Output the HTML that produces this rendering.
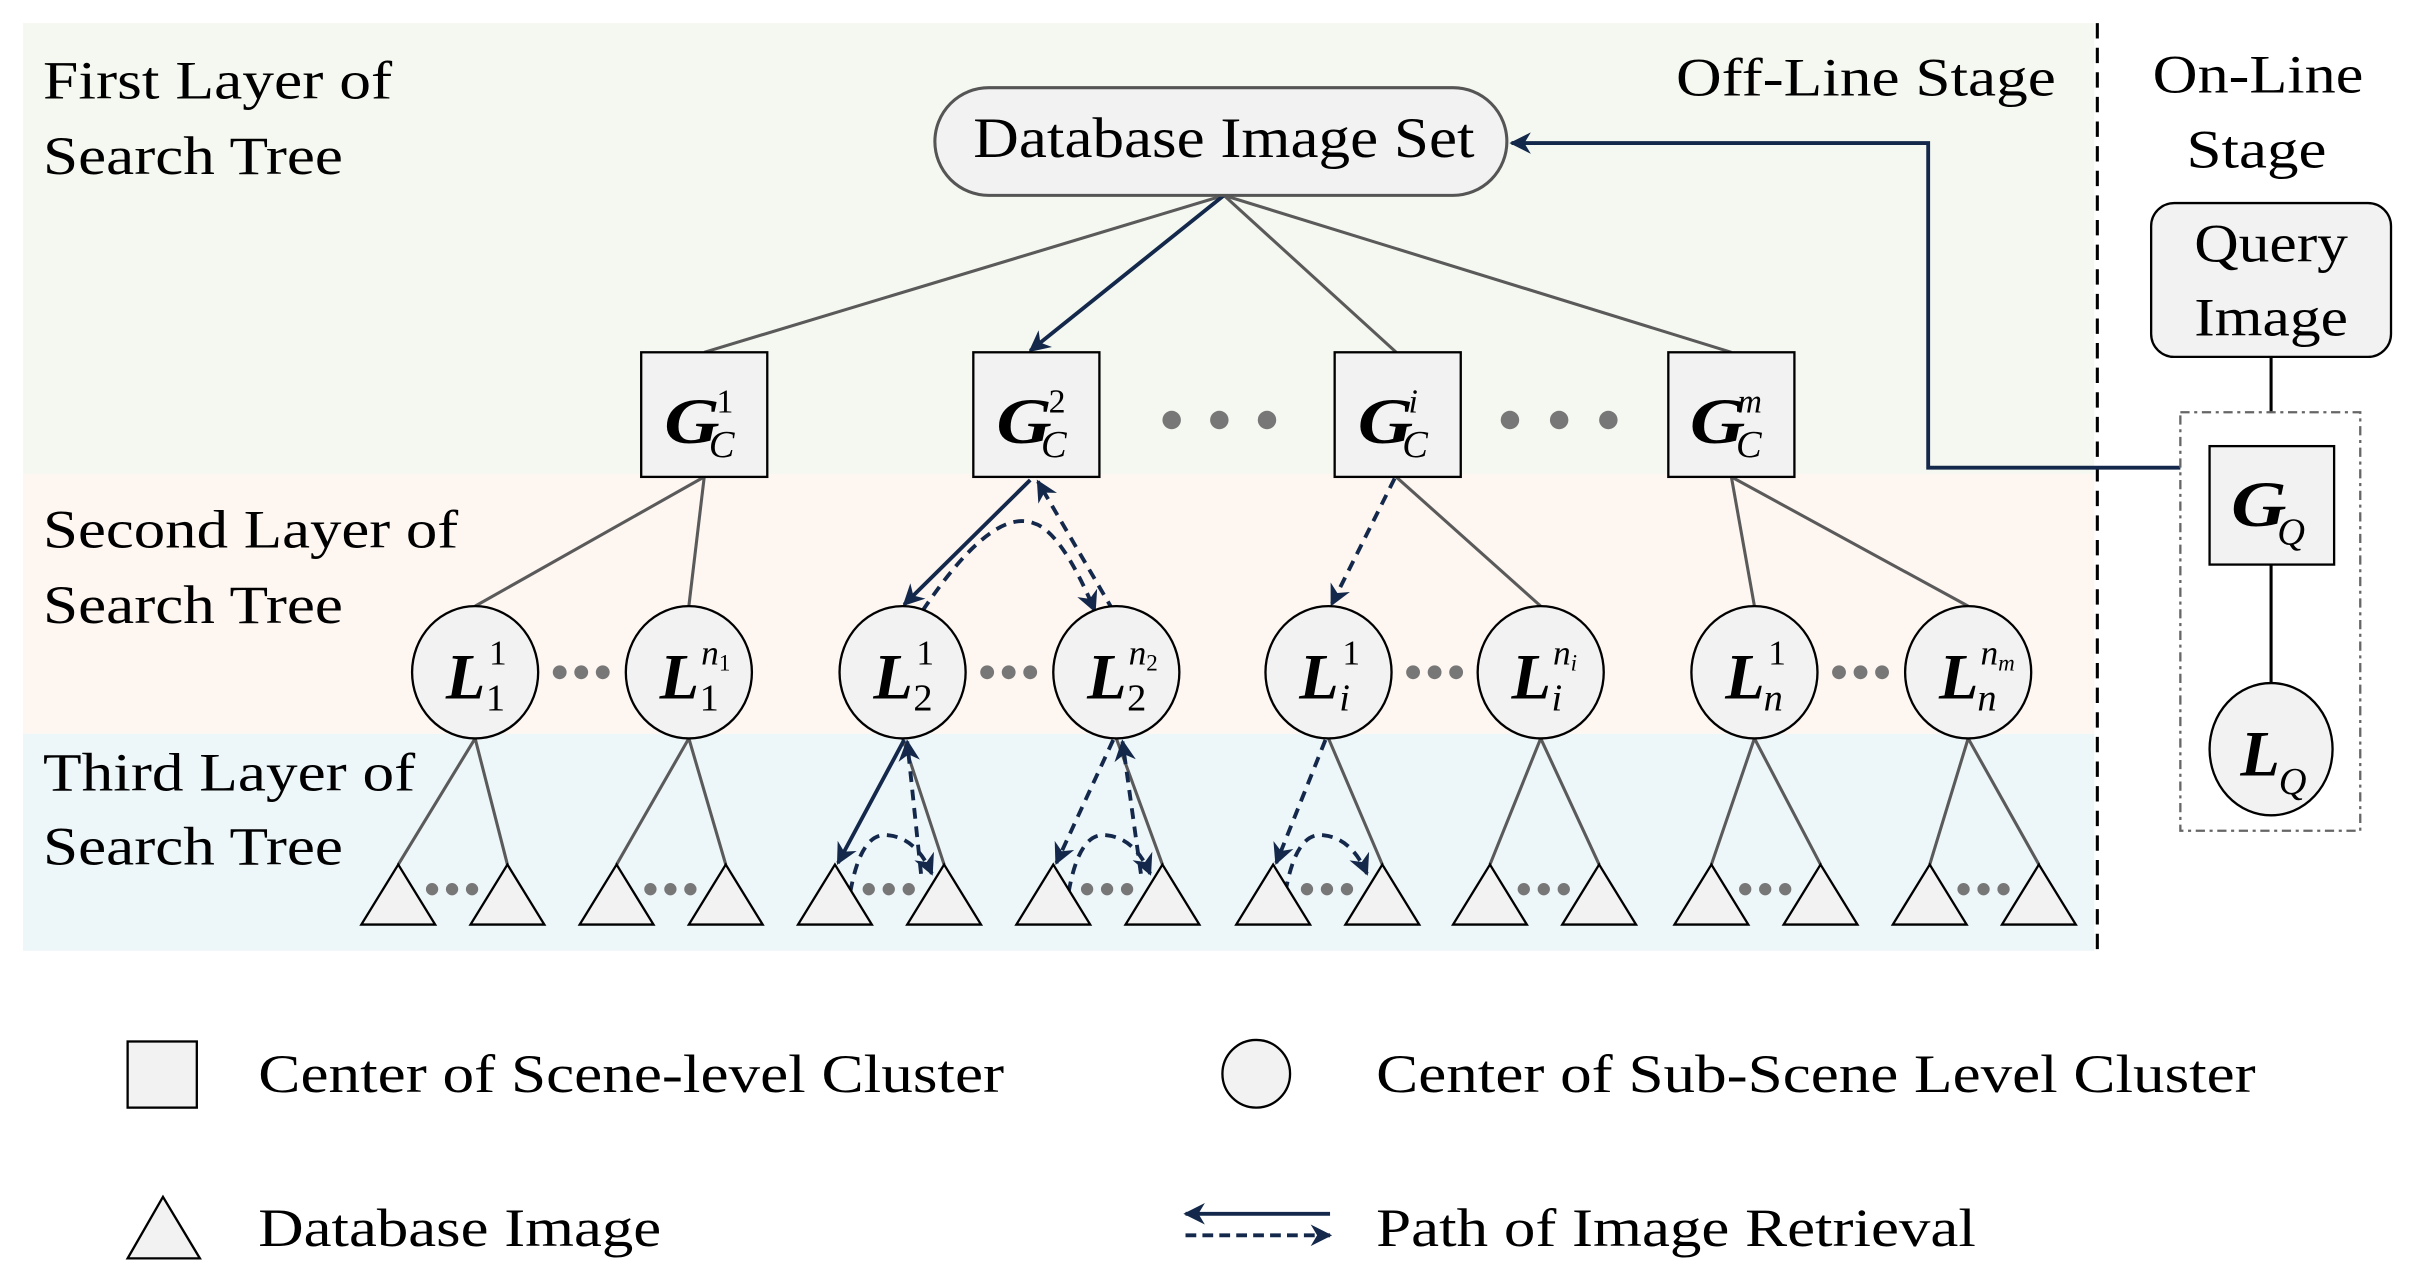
<!DOCTYPE html>
<html><head><meta charset="utf-8"><style>html,body{margin:0;padding:0;background:#fff}svg{display:block}</style></head><body>
<svg width="2411" height="1283" viewBox="0 0 1568 834" preserveAspectRatio="none" xmlns="http://www.w3.org/2000/svg" font-family="'Liberation Serif', serif">
<defs>
<marker id="b" viewBox="0 0 10 10" refX="9" refY="5" markerWidth="14" markerHeight="14" orient="auto" markerUnits="userSpaceOnUse"><path d="M0,0 L10,5 L0,10 L3,5 z" fill="#13284a"/></marker>
</defs>
<rect x="15" y="15" width="1347" height="293" fill="#f5f8f0"/>
<rect x="15" y="308" width="1347" height="169" fill="#fdf6f1"/>
<rect x="15" y="477" width="1347" height="141" fill="#edf6f9"/>
<line x1="1364" y1="15" x2="1364" y2="618" stroke="#000" stroke-width="2" stroke-dasharray="10,6"/>

<g font-size="35" fill="#000" lengthAdjust="spacingAndGlyphs">
<text x="28" y="64" textLength="227" lengthAdjust="spacingAndGlyphs">First Layer of</text><text x="28" y="113" textLength="195" lengthAdjust="spacingAndGlyphs">Search Tree</text>
<text x="28" y="356" textLength="270" lengthAdjust="spacingAndGlyphs">Second Layer of</text><text x="28" y="405" textLength="195" lengthAdjust="spacingAndGlyphs">Search Tree</text>
<text x="28" y="514" textLength="242" lengthAdjust="spacingAndGlyphs">Third Layer of</text><text x="28" y="562" textLength="195" lengthAdjust="spacingAndGlyphs">Search Tree</text>
<text x="1090" y="62" textLength="247" lengthAdjust="spacingAndGlyphs">Off-Line Stage</text>
<text x="1400" y="60" textLength="137" lengthAdjust="spacingAndGlyphs">On-Line</text><text x="1422" y="109" textLength="91" lengthAdjust="spacingAndGlyphs">Stage</text>
</g>

<g stroke="#5a5a5a" stroke-width="2" fill="none">
<line x1="796" y1="127" x2="458" y2="229"/><line x1="796" y1="127" x2="908" y2="229"/><line x1="796" y1="127" x2="1126" y2="229"/>
<line x1="458" y1="310" x2="309" y2="394"/><line x1="458" y1="310" x2="448" y2="394"/>
<line x1="908" y1="310" x2="1002" y2="394"/>
<line x1="1126" y1="310" x2="1141" y2="394"/><line x1="1126" y1="310" x2="1280" y2="394"/>
<path d="M259,562 L309,480 L330,562 M401,562 L448,480 L472,562 M614,562 L587,480 M756,562 L726,480 M899,562 L864,480 M969,562 L1002,480 L1040,562 M1113,562 L1141,480 L1184,562 M1255,562 L1280,480 L1326,562"/>
</g>

<g stroke="#13284a" stroke-width="2.5" fill="none">
<line x1="796" y1="127" x2="670" y2="228" marker-end="url(#b)"/>
<line x1="670" y1="312" x2="588" y2="393" marker-end="url(#b)"/>
<line x1="588" y1="481" x2="545" y2="561" marker-end="url(#b)"/>
<polyline points="1418,304 1254,304 1254,93 983,93" marker-end="url(#b)"/>
<g stroke-dasharray="7,5">
<path d="M600,397 Q645,330 672,340 Q690,345 712,397" marker-end="url(#b)"/>
<line x1="724" y1="397" x2="675" y2="313" marker-end="url(#b)"/>
<line x1="907" y1="311" x2="866" y2="393" marker-end="url(#b)"/>
<path d="M553,580 Q560,540 578,543 Q596,545 606,568" marker-end="url(#b)"/>
<line x1="599" y1="568" x2="590" y2="482" marker-end="url(#b)"/>
<line x1="724" y1="481" x2="687" y2="561" marker-end="url(#b)"/>
<path d="M695,580 Q702,540 720,543 Q738,545 748,568" marker-end="url(#b)"/>
<line x1="742" y1="568" x2="730" y2="482" marker-end="url(#b)"/>
<line x1="862" y1="481" x2="830" y2="561" marker-end="url(#b)"/>
<path d="M836,580 Q843,540 861,543 Q879,545 889,568" marker-end="url(#b)"/>
</g>
</g>

<rect x="608" y="57" width="372" height="70" rx="35" fill="#f2f2f2" stroke="#555" stroke-width="2"/>
<text x="633" y="102" font-size="37" textLength="326" lengthAdjust="spacingAndGlyphs">Database Image Set</text>

<g fill="#f2f2f2" stroke="#000" stroke-width="1.5">
<rect x="417" y="229" width="82" height="81"/><rect x="633" y="229" width="82" height="81"/>
<rect x="868" y="229" width="82" height="81"/><rect x="1085" y="229" width="82" height="81"/>
</g>
<g font-size="42" font-weight="bold" font-style="italic">
<text x="432" y="288" textLength="36" lengthAdjust="spacingAndGlyphs">G</text><text x="648" y="288" textLength="36" lengthAdjust="spacingAndGlyphs">G</text><text x="883" y="288" textLength="36" lengthAdjust="spacingAndGlyphs">G</text><text x="1099" y="288" textLength="36" lengthAdjust="spacingAndGlyphs">G</text>
</g>
<g font-size="22"><text x="466" y="268">1</text><text x="682" y="268">2</text><text x="916" y="268" font-style="italic">i</text><text x="1130" y="268" font-style="italic">m</text></g>
<g font-size="25" font-style="italic"><text x="461" y="297">C</text><text x="677" y="297">C</text><text x="912" y="297">C</text><text x="1129" y="297">C</text></g>
<g fill="#777"><circle cx="762" cy="273" r="6"/><circle cx="793" cy="273" r="6"/><circle cx="824" cy="273" r="6"/><circle cx="982" cy="273" r="6"/><circle cx="1014" cy="273" r="6"/><circle cx="1046" cy="273" r="6"/></g>

<g fill="#f2f2f2" stroke="#000" stroke-width="1.5">
<ellipse cx="309" cy="437" rx="41" ry="43"/><ellipse cx="448" cy="437" rx="41" ry="43"/>
<ellipse cx="587" cy="437" rx="41" ry="43"/><ellipse cx="726" cy="437" rx="41" ry="43"/>
<ellipse cx="864" cy="437" rx="41" ry="43"/><ellipse cx="1002" cy="437" rx="41" ry="43"/>
<ellipse cx="1141" cy="437" rx="41" ry="43"/><ellipse cx="1280" cy="437" rx="41" ry="43"/>
</g>
<g font-size="42" font-weight="bold" font-style="italic">
<text x="290" y="454">L</text><text x="429" y="454">L</text><text x="568" y="454">L</text><text x="707" y="454">L</text>
<text x="845" y="454">L</text><text x="983" y="454">L</text><text x="1122" y="454">L</text><text x="1261" y="454">L</text>
</g>
<g font-size="23">
<text x="318" y="432">1</text><text x="456" y="432" font-style="italic">n<tspan font-size="15" font-style="normal" dy="4">1</tspan></text>
<text x="596" y="432">1</text><text x="734" y="432" font-style="italic">n<tspan font-size="15" font-style="normal" dy="4">2</tspan></text>
<text x="873" y="432">1</text><text x="1010" y="432" font-style="italic">n<tspan font-size="15" dy="4">i</tspan></text>
<text x="1150" y="432">1</text><text x="1288" y="432" font-style="italic">n<tspan font-size="15" dy="4">m</tspan></text>
</g>
<g font-size="25">
<text x="316" y="462">1</text><text x="455" y="462">1</text><text x="594" y="462">2</text><text x="733" y="462">2</text>
<text x="871" y="462" font-style="italic">i</text><text x="1009" y="462" font-style="italic">i</text><text x="1147" y="462" font-style="italic">n</text><text x="1286" y="462" font-style="italic">n</text>
</g>
<g fill="#777">
<circle cx="364" cy="437" r="4.5"/><circle cx="378" cy="437" r="4.5"/><circle cx="392" cy="437" r="4.5"/>
<circle cx="642" cy="437" r="4.5"/><circle cx="656" cy="437" r="4.5"/><circle cx="670" cy="437" r="4.5"/>
<circle cx="919" cy="437" r="4.5"/><circle cx="933" cy="437" r="4.5"/><circle cx="947" cy="437" r="4.5"/>
<circle cx="1196" cy="437" r="4.5"/><circle cx="1210" cy="437" r="4.5"/><circle cx="1224" cy="437" r="4.5"/>
</g>

<g fill="#f2f2f2" stroke="#000" stroke-width="1.5">
<polygon points="259,562 235,601 283,601"/><polygon points="330,562 306,601 354,601"/>
<polygon points="401,562 377,601 425,601"/><polygon points="472,562 448,601 496,601"/>
<polygon points="543,562 519,601 567,601"/><polygon points="614,562 590,601 638,601"/>
<polygon points="685,562 661,601 709,601"/><polygon points="756,562 732,601 780,601"/>
<polygon points="828,562 804,601 852,601"/><polygon points="899,562 875,601 923,601"/>
<polygon points="969,562 945,601 993,601"/><polygon points="1040,562 1016,601 1064,601"/>
<polygon points="1113,562 1089,601 1137,601"/><polygon points="1184,562 1160,601 1208,601"/>
<polygon points="1255,562 1231,601 1279,601"/><polygon points="1326,562 1302,601 1350,601"/>
</g>
<g fill="#777">
<circle cx="281" cy="578" r="4"/><circle cx="294" cy="578" r="4"/><circle cx="307" cy="578" r="4"/>
<circle cx="423" cy="578" r="4"/><circle cx="436" cy="578" r="4"/><circle cx="449" cy="578" r="4"/>
<circle cx="565" cy="578" r="4"/><circle cx="578" cy="578" r="4"/><circle cx="591" cy="578" r="4"/>
<circle cx="707" cy="578" r="4"/><circle cx="720" cy="578" r="4"/><circle cx="733" cy="578" r="4"/>
<circle cx="850" cy="578" r="4"/><circle cx="863" cy="578" r="4"/><circle cx="876" cy="578" r="4"/>
<circle cx="991" cy="578" r="4"/><circle cx="1004" cy="578" r="4"/><circle cx="1017" cy="578" r="4"/>
<circle cx="1135" cy="578" r="4"/><circle cx="1148" cy="578" r="4"/><circle cx="1161" cy="578" r="4"/>
<circle cx="1277" cy="578" r="4"/><circle cx="1290" cy="578" r="4"/><circle cx="1303" cy="578" r="4"/>
</g>

<rect x="1399" y="132" width="156" height="100" rx="15" fill="#f2f2f2" stroke="#000" stroke-width="1.5"/>
<text x="1427" y="170" font-size="35" textLength="100" lengthAdjust="spacingAndGlyphs">Query</text>
<text x="1427" y="218" font-size="35" textLength="100" lengthAdjust="spacingAndGlyphs">Image</text>
<line x1="1477" y1="232" x2="1477" y2="268" stroke="#000" stroke-width="2"/>
<rect x="1418" y="268" width="117" height="272" fill="none" stroke="#666" stroke-width="1.5" stroke-dasharray="6,3,2,3"/>
<rect x="1437" y="290" width="81" height="77" fill="#f2f2f2" stroke="#000" stroke-width="1.5"/>
<line x1="1477" y1="367" x2="1477" y2="444" stroke="#000" stroke-width="2"/>
<ellipse cx="1477" cy="487" rx="40" ry="43" fill="#f2f2f2" stroke="#000" stroke-width="1.5"/>
<text x="1451" y="342" font-size="42" font-weight="bold" font-style="italic" textLength="36" lengthAdjust="spacingAndGlyphs">G</text><text x="1481" y="354" font-size="25" font-style="italic">Q</text>
<text x="1457" y="504" font-size="42" font-weight="bold" font-style="italic">L</text><text x="1482" y="516" font-size="25" font-style="italic">Q</text>

<rect x="83" y="677" width="45" height="43" fill="#f2f2f2" stroke="#000" stroke-width="1.5"/>
<text x="168" y="710" font-size="35" textLength="485" lengthAdjust="spacingAndGlyphs">Center of Scene-level Cluster</text>
<circle cx="817" cy="698" r="22" fill="#f2f2f2" stroke="#000" stroke-width="1.5"/>
<text x="895" y="710" font-size="35" textLength="572" lengthAdjust="spacingAndGlyphs">Center of Sub-Scene Level Cluster</text>
<polygon points="106,778 83,818 130,818" fill="#f2f2f2" stroke="#000" stroke-width="1.5"/>
<text x="168" y="810" font-size="35" textLength="262" lengthAdjust="spacingAndGlyphs">Database Image</text>
<line x1="865" y1="789" x2="771" y2="789" stroke="#13284a" stroke-width="2.5" marker-end="url(#b)"/>
<line x1="771" y1="803" x2="865" y2="803" stroke="#13284a" stroke-width="2.5" stroke-dasharray="7,4" marker-end="url(#b)"/>
<text x="895" y="810" font-size="35" textLength="390" lengthAdjust="spacingAndGlyphs">Path of Image Retrieval</text>
</svg>
</body></html>
